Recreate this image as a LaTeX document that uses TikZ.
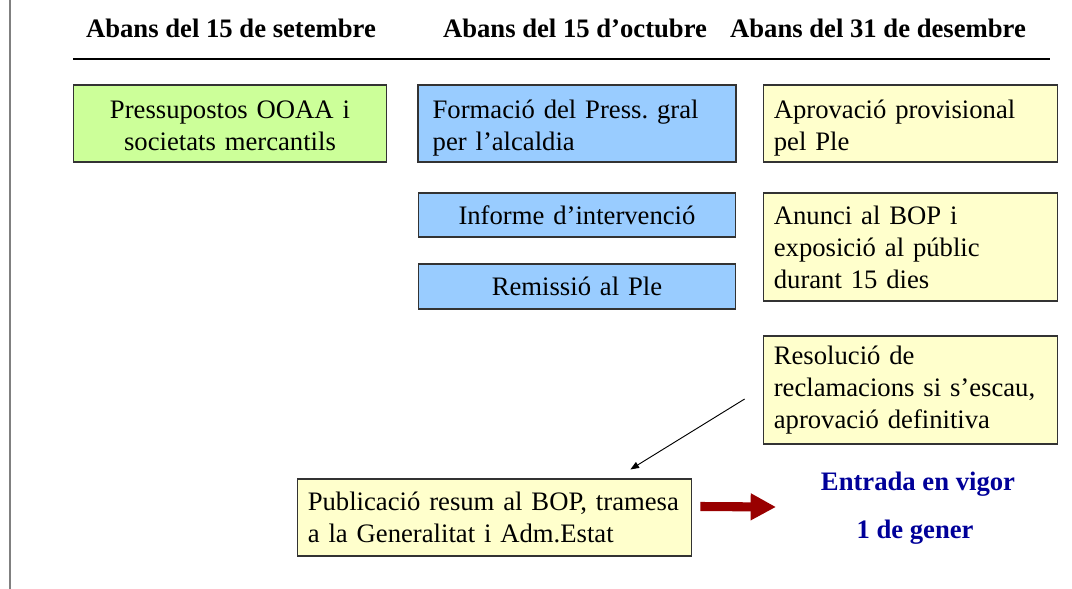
\documentclass[tikz,border=0pt]{standalone}
\usepackage{fontspec}
\setmainfont{Liberation Serif}
\usepackage{tikz}
\usetikzlibrary{arrows.meta}
\frenchspacing
\definecolor{ooaagreen}{HTML}{CCFF99}
\definecolor{alcblue}{HTML}{99CCFF}
\definecolor{pleyellow}{HTML}{FFFFCC}
\definecolor{vigorred}{HTML}{990000}
\definecolor{vigornavy}{HTML}{000099}
\tikzset{stagebox/.style={draw=black!80,line width=.8pt,inner xsep=8pt,inner ysep=0pt},
  greenbox/.style={stagebox,fill=ooaagreen,align=center},
  bluebox/.style={stagebox,fill=alcblue},
  yellowbox/.style={stagebox,fill=pleyellow,align=left},
  lowtext/.style={execute at begin node={\rule{0pt}{21pt}}},
  heading/.style={font=\fontsize{20}{24}\selectfont\bfseries},
  vigortext/.style={font=\fontsize{20}{24}\selectfont\bfseries,text=vigornavy},
  thinarrow/.style={-{Triangle[length=6.5pt,width=5pt]},line width=.7pt},
  bigarrow/.style={-{Triangle[length=19pt,width=19pt]},draw=vigorred,line width=6.8pt}}
\begin{document}
\begin{tikzpicture}[x=.75pt,y=-.75pt,font=\fontsize{20}{24}\selectfont]
\path[use as bounding box] (0,0) rectangle (1072,589);
\draw[black!50,line width=1.1pt] (10,0)--(10,589);
\node[heading] (hsep) at (231,28) {Abans del 15 de setembre};
\node[heading] (hoct) at (575,28) {Abans del 15 d'octubre};
\node[heading] (hdes) at (878,28) {Abans del 31 de desembre};
\draw[line width=1.6pt] (73,59)--(1050,59);
\node[greenbox,text width=219pt,minimum height=57.75pt,yshift=0pt] (ooaa) at (230,123.5) {\rule{0pt}{17pt}Pressupostos OOAA i\\societats mercantils};
\node[bluebox,lowtext,align=left,text width=216.5pt,minimum height=57.75pt,inner xsep=11pt] (form) at (577,123.5) {Formació del Press. gral\\per l'alcaldia};
\node[bluebox,align=center,text width=222pt,minimum height=33pt] (inf) at (577,215) {Informe d'intervenció};
\node[bluebox,align=center,text width=222pt,minimum height=33.75pt] (rem) at (577,286.5) {Remissió al Ple};
\node[yellowbox,lowtext,text width=205pt,minimum height=57.75pt] (aprov) at (910.5,123.5) {Aprovació provisional\\pel Ple};
\node[yellowbox,text width=205pt,minimum height=81pt] (anunci) at (910.5,247) {Anunci al BOP i\\exposició al públic\\durant 15 dies};
\node[yellowbox,text width=205pt,minimum height=81pt] (resol) at (910.5,390) {Resolució de\\reclamacions si s'escau,\\aprovació definitiva};
\node[yellowbox,text width=280pt,minimum height=57.75pt] (pub) at (494.5,517.5) {Publicació resum al BOP, tramesa\\a la Generalitat i Adm.Estat};
\node[vigortext] (vigor) at (918,484) {Entrada en vigor};
\node[vigortext] (gener) at (915,532) {1 de gener};
\coordinate (vigorin) at (776,507);
\draw[thinarrow] ([shift={(-18,9)}]resol.west) -- ([shift={(-62,-9)}]pub.north east);
\draw[bigarrow] ([shift={(8,-11)}]pub.east) -- (vigorin);
\end{tikzpicture}
\end{document}
